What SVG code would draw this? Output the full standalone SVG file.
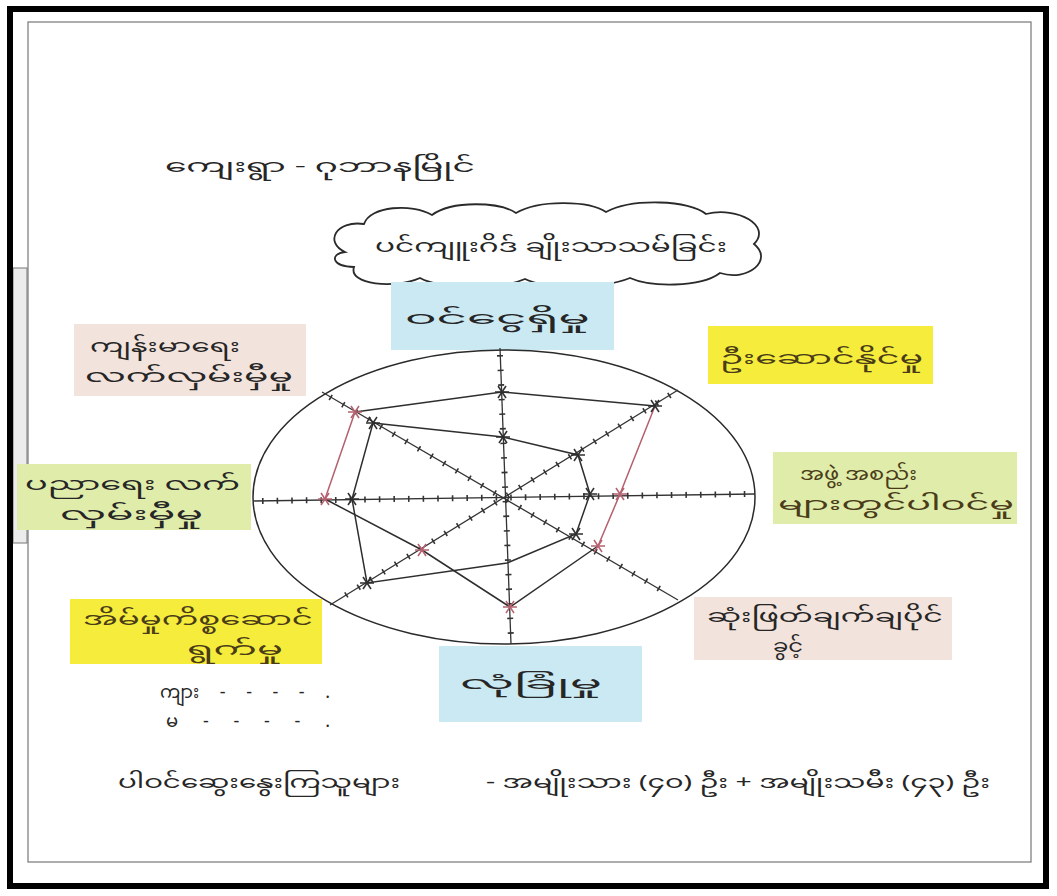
<svg xmlns="http://www.w3.org/2000/svg" xmlns:xlink="http://www.w3.org/1999/xlink" width="1057" height="896" viewBox="0 0 1057 896">
<style>
.t{font-family:'Noto Sans','Noto Sans Myanmar','Padauk','Myanmar Text',sans-serif;font-size:18px;fill:#262626}
.ty{fill:#4a3c18}
.ax{stroke:#333;stroke-width:1.3;fill:none}
.tk{stroke:#333;stroke-width:6;stroke-dasharray:1.6 13;fill:none}
.blk{stroke:#2e2e2e;stroke-width:1.5;fill:none}
.red{stroke:#b4606e;stroke-width:1.5;fill:none}
.blue{fill:#cbe9f3}
.yel{fill:#f6ec3c}
.pink{fill:#f2e3dc}
.grn{fill:#e0ecaa}
</style>
<defs>
<g id="st"><line x1="-7" y1="0" x2="7" y2="0"/><line x1="-4" y1="-6" x2="4" y2="6"/><line x1="-4" y1="6" x2="4" y2="-6"/></g>
</defs>
<rect width="1057" height="896" fill="#ffffff"/>
<g id="frame">
<rect x="13" y="268" width="14" height="275" fill="#ececec" stroke="#777" stroke-width="1"/>
<rect x="28" y="22" width="1003" height="840" fill="none" stroke="#777" stroke-width="1.2"/>
<rect x="10" y="9" width="1036" height="877" fill="none" stroke="#000" stroke-width="6"/>
</g>
<g id="title"><text class="t" x="165" y="172" font-size="22" textLength="310" lengthAdjust="spacingAndGlyphs">ကျေးရွာ - ဂုဘာနမြိုင်</text></g>
<g id="cloud">
<path d="M345,252 C324,242 336,220 364,224 C370,206 412,203 432,215 C452,200 500,202 516,213 C540,199 590,201 606,212 C632,198 690,200 706,214 C738,206 772,226 754,244 C774,260 748,282 720,273 C700,288 650,287 630,278 C600,290 545,289 525,279 C500,290 440,289 420,278 C395,289 348,285 354,267 C332,267 329,254 345,252 Z" fill="#fff" stroke="#2a2a2a" stroke-width="1.8"/>
<text class="t" x="375" y="252" font-size="20" textLength="352" lengthAdjust="spacingAndGlyphs">ပင်ကျူးဂိဒ်  ချိုးသာသမ်ခြင်း</text>
</g>
<g id="n-income"><rect class="blue" x="391" y="282" width="223" height="68"/><text class="t" x="405" y="324" font-size="21" textLength="185" lengthAdjust="spacingAndGlyphs">ဝင်ငွေရှိမှု</text></g>
<g id="n-lead"><rect class="yel" x="708" y="326" width="225" height="58"/><text class="t ty" x="720" y="364" font-size="20" textLength="203" lengthAdjust="spacingAndGlyphs">ဦးဆောင်နိုင်မှု</text></g>
<g id="n-health"><rect class="pink" x="74" y="324" width="232" height="72"/><text class="t"><tspan x="90" y="352" textLength="150" lengthAdjust="spacingAndGlyphs">ကျန်းမာရေး</tspan><tspan x="85" y="382" textLength="208" lengthAdjust="spacingAndGlyphs">လက်လှမ်းမှီမှု</tspan></text></g>
<g id="n-edu"><rect class="grn" x="17" y="464" width="234" height="66"/><text class="t"><tspan x="25" y="490" textLength="215" lengthAdjust="spacingAndGlyphs">ပညာရေး လက်</tspan><tspan x="60" y="520" textLength="143" lengthAdjust="spacingAndGlyphs">လှမ်းမှီမှု</tspan></text></g>
<g id="n-org"><rect class="grn" x="773" y="452" width="244" height="72"/><text class="t ty"><tspan x="800" y="480" textLength="117" lengthAdjust="spacingAndGlyphs">အဖွဲ့ အစည်း</tspan><tspan x="778" y="510" textLength="236" lengthAdjust="spacingAndGlyphs">များတွင်ပါဝင်မှု</tspan></text></g>
<g id="n-house"><rect class="yel" x="70" y="599" width="252" height="65"/><text class="t ty"><tspan x="83" y="625" textLength="230" lengthAdjust="spacingAndGlyphs">အိမ်မှုကိစ္စဆောင်</tspan><tspan x="187" y="655" textLength="96" lengthAdjust="spacingAndGlyphs">ရွက်မှု</tspan></text></g>
<g id="n-decide"><rect class="pink" x="694" y="597" width="258" height="63"/><text class="t"><tspan x="707" y="622" textLength="236" lengthAdjust="spacingAndGlyphs">ဆုံးဖြတ်ချက်ချပိုင်</tspan><tspan x="773" y="652" textLength="30" lengthAdjust="spacingAndGlyphs">ခွင့်</tspan></text></g>
<g id="n-safe"><rect class="blue" x="439" y="646" width="203" height="76"/><text class="t" x="460" y="689" font-size="20" textLength="142" lengthAdjust="spacingAndGlyphs">လုံခြုံမှု</text></g>
<g id="radar">
<ellipse cx="504" cy="497" rx="251" ry="147" fill="none" stroke="#2a2a2a" stroke-width="1.5"/>
<line class="ax" x1="500" y1="348" x2="511" y2="644"/>
<line class="ax" x1="253" y1="501" x2="755" y2="494"/>
<line class="ax" x1="322" y1="392" x2="678" y2="600"/>
<line class="ax" x1="678" y1="390" x2="330" y2="605"/>
<line class="tk" x1="500" y1="355" x2="511" y2="640"/>
<line class="tk" x1="262" y1="501" x2="747" y2="494"/>
<line class="tk" x1="330" y1="397" x2="670" y2="595"/>
<line class="tk" x1="670" y1="395" x2="338" y2="600"/>
</g>
<g id="connectors">
<polygon class="blk" points="373,423 503,437 578,455 590,494 576,534 507,563 367,583 352,499"/>
<polyline class="blk" points="355,412 502,392 655,406"/>
<polyline class="blk" points="598,546 510,607 422,550 325,499"/>
<polyline class="red" points="655,406 620,494 598,546"/>
<line class="red" x1="355" y1="412" x2="325" y2="499"/>
<g class="blk"><use xlink:href="#st" x="373" y="423"/><use xlink:href="#st" x="503" y="437"/><use xlink:href="#st" x="578" y="455"/><use xlink:href="#st" x="590" y="494"/><use xlink:href="#st" x="576" y="534"/><use xlink:href="#st" x="367" y="583"/><use xlink:href="#st" x="352" y="499"/><use xlink:href="#st" x="502" y="392"/><use xlink:href="#st" x="655" y="406"/></g>
<g class="red"><use xlink:href="#st" x="355" y="412"/><use xlink:href="#st" x="620" y="494"/><use xlink:href="#st" x="598" y="546"/><use xlink:href="#st" x="510" y="607"/><use xlink:href="#st" x="422" y="550"/><use xlink:href="#st" x="325" y="499"/></g>
</g>
<g id="legend">
<text class="t" font-size="17"><tspan x="160" y="698" textLength="170" lengthAdjust="spacing">ကျား  - - - - .</tspan><tspan x="166" y="727" textLength="164" lengthAdjust="spacing">မ   - - - - .</tspan></text>
</g>
<g id="footer">
<text class="t" x="118" y="788" font-size="19" textLength="282" lengthAdjust="spacingAndGlyphs">ပါဝင်ဆွေးနွေးကြသူများ</text>
<text class="t" x="486" y="788" font-size="19" textLength="504" lengthAdjust="spacingAndGlyphs">- အမျိုးသား (၄၀) ဦး + အမျိုးသမီး (၄၃) ဦး</text>
</g>
</svg>
